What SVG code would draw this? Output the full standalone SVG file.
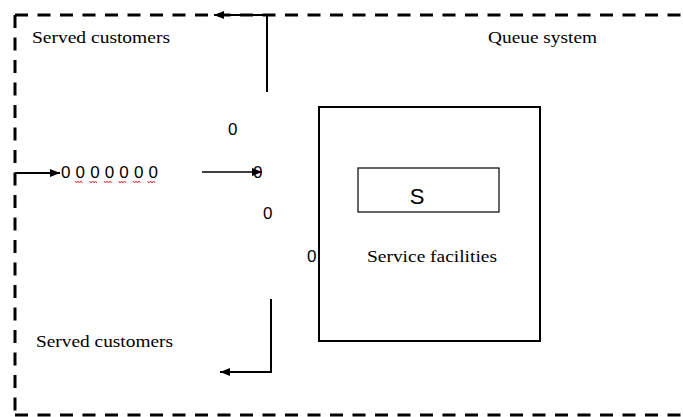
<svg xmlns="http://www.w3.org/2000/svg" width="683" height="417" viewBox="0 0 683 417">
  <style>
    .lbl { font-family: "Liberation Serif", "Times New Roman", serif; font-size: 17px; fill: #000; }
    .num { font-family: "Liberation Sans", Arial, sans-serif; font-size: 17px; fill: #000; }
    .border { fill: none; stroke: #000; stroke-width: 3; stroke-dasharray: 13 9.5; }
    .flow { fill: none; stroke: #000; stroke-width: 2; }
    .thin { fill: none; stroke: #000; stroke-width: 1.3; }
    .squig { fill: none; stroke: #e02020; stroke-width: 0.9; }
  </style>
  <defs>
    <marker id="head" viewBox="0 0 10 8" refX="10" refY="4" markerWidth="10" markerHeight="8" markerUnits="userSpaceOnUse" orient="auto">
      <path d="M0,0 L10,4 L0,8 Z" fill="#000"/>
    </marker>
  </defs>

  <!-- queue system boundary (open on the right) -->
  <g id="queue-system">
    <path class="border" d="M15,15 H683"/>
    <path class="border" d="M15,15 V415"/>
    <path class="border" d="M15,415 H683"/>
    <text class="lbl" x="488" y="43" textLength="109" lengthAdjust="spacingAndGlyphs">Queue system</text>
  </g>

  <g id="served-top">
    <text class="lbl" x="32" y="43" textLength="138" lengthAdjust="spacingAndGlyphs">Served customers</text>
  </g>

  <g id="served-bottom">
    <text class="lbl" x="36" y="347" textLength="137" lengthAdjust="spacingAndGlyphs">Served customers</text>
  </g>

  <!-- waiting line -->
  <g id="queue">
    <text class="num" x="61" y="178" textLength="97" lengthAdjust="spacing">0 0 0 0 0 0 0</text>
    <path class="squig" d="M75,181 l1.5,2 l1.5,-2 l1.5,2 l1.5,-2 l1.5,2 M89.5,181 l1.5,2 l1.5,-2 l1.5,2 l1.5,-2 l1.5,2 M104,181 l1.5,2 l1.5,-2 l1.5,2 l1.5,-2 l1.5,2 M118.5,181 l1.5,2 l1.5,-2 l1.5,2 l1.5,-2 l1.5,2 M133,181 l1.5,2 l1.5,-2 l1.5,2 l1.5,-2 l1.5,2 M147.5,181 l1.5,2 l1.5,-2 l1.5,2 l1.5,-2 l1.5,2"/>
  </g>

  <!-- customers moving toward service -->
  <g id="customers">
    <text class="num" x="228" y="135">0</text>
    <text class="num" x="253" y="178">0</text>
    <text class="num" x="263" y="219">0</text>
    <text class="num" x="307" y="262">0</text>
  </g>

  <g id="service-facilities">
    <rect x="319" y="107" width="221" height="234" fill="none" stroke="#000" stroke-width="2"/>
    <text class="lbl" x="432" y="262" text-anchor="middle" textLength="130" lengthAdjust="spacingAndGlyphs">Service facilities</text>
  </g>

  <g id="server">
    <rect x="358" y="168" width="141" height="44" fill="none" stroke="#000" stroke-width="1.2"/>
    <text x="417" y="204" text-anchor="middle" font-family="'Liberation Sans', Arial, sans-serif" font-size="22" fill="#000">S</text>
  </g>

  <g id="connectors">
    <path class="flow" d="M15,173 H60" marker-end="url(#head)"/>
    <path class="thin" d="M202,172 H262" marker-end="url(#head)"/>
    <path class="flow" d="M267,92 V15 H214" marker-end="url(#head)"/>
    <path class="flow" d="M271,299 V372 H220" marker-end="url(#head)"/>
  </g>
</svg>
